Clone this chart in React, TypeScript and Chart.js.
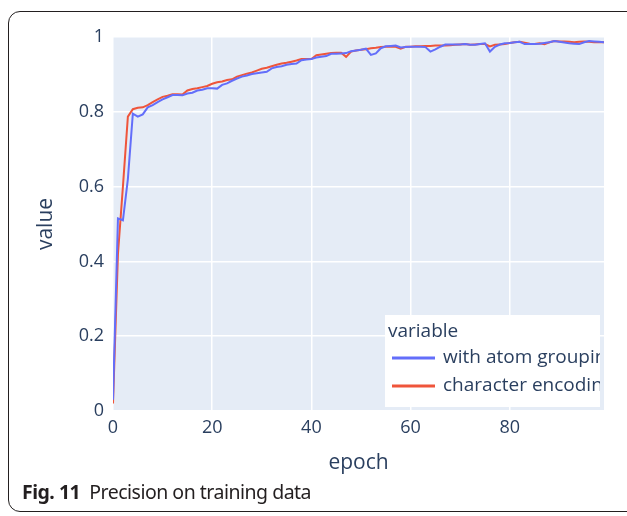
import React, { useEffect, useRef } from "react";
import { Chart, registerables } from "chart.js";

Chart.register(...registerables);

const epochs: number[] = Array.from({ length: 100 }, (_, i) => i);

const withAtomGrouping: number[] = [
  0.03, 0.515, 0.51, 0.62, 0.795, 0.787, 0.793, 0.812, 0.818, 0.826,
  0.833, 0.839, 0.845, 0.845, 0.844, 0.849, 0.851, 0.857, 0.859, 0.863,
  0.863, 0.862, 0.872, 0.876, 0.883, 0.889, 0.894, 0.897, 0.901, 0.903,
  0.905, 0.907, 0.916, 0.92, 0.922, 0.926, 0.928, 0.929, 0.938, 0.94,
  0.941, 0.945, 0.947, 0.949, 0.955, 0.955, 0.956, 0.957, 0.962, 0.964,
  0.966, 0.969, 0.952, 0.956, 0.97, 0.975, 0.976, 0.977, 0.972, 0.973,
  0.974, 0.974, 0.974, 0.973, 0.961, 0.967, 0.974, 0.98, 0.98, 0.98,
  0.98, 0.981, 0.979, 0.979, 0.981, 0.983, 0.961, 0.974, 0.98, 0.983,
  0.984, 0.986, 0.987, 0.981, 0.981, 0.981, 0.982, 0.984, 0.986, 0.989,
  0.987, 0.985, 0.983, 0.982, 0.981, 0.986, 0.989, 0.988, 0.987, 0.986,
];

const characterEncoding: number[] = [
  0.02, 0.42, 0.6, 0.787, 0.807, 0.811, 0.812, 0.818, 0.826, 0.833,
  0.84, 0.843, 0.847, 0.847, 0.846, 0.857, 0.861, 0.863, 0.866, 0.869,
  0.875, 0.879, 0.881, 0.885, 0.887, 0.894, 0.898, 0.902, 0.905, 0.91,
  0.915, 0.918, 0.922, 0.926, 0.929, 0.931, 0.934, 0.937, 0.941, 0.941,
  0.941, 0.951, 0.953, 0.955, 0.957, 0.958, 0.958, 0.947, 0.961, 0.964,
  0.966, 0.967, 0.97, 0.971, 0.973, 0.974, 0.974, 0.974, 0.969, 0.974,
  0.974, 0.975, 0.975, 0.976, 0.976, 0.977, 0.977, 0.977, 0.978, 0.979,
  0.98, 0.981, 0.979, 0.98, 0.981, 0.981, 0.975, 0.979, 0.98, 0.981,
  0.984, 0.986, 0.987, 0.985, 0.982, 0.981, 0.983, 0.981, 0.986, 0.989,
  0.988, 0.988, 0.987, 0.986, 0.987, 0.988, 0.987, 0.986, 0.986, 0.986,
];

const seriesNames: string[] = ["with atom grouping", "character encoding"];
const legendTitle = "variable";
const xTitle = "epoch";
const yTitle = "value";
const captionBold = "Fig. 11";
const captionText = "Precision on training data";

const BLUE = "#636EFA";
const RED = "#EF553B";
const INK = "#2a3f5f";
const FONT = "'Open Sans', 'Noto Sans', sans-serif";

const bgPlugin = {
  id: "plotBg",
  beforeDraw(chart: any) {
    const { ctx, chartArea } = chart;
    ctx.save();
    ctx.fillStyle = "#E5ECF6";
    ctx.fillRect(chartArea.left, chartArea.top, chartArea.right - chartArea.left, chartArea.bottom - chartArea.top);
    ctx.restore();
  },
};

const legendPlugin = {
  id: "plotlyLegend",
  afterDraw(chart: any) {
    const { ctx, chartArea } = chart;
    const x0 = 385, y0 = 315, x1 = 600, y1 = 407;
    ctx.save();
    ctx.beginPath();
    ctx.rect(chartArea.left, chartArea.top, x1 - chartArea.left, chartArea.bottom - chartArea.top);
    ctx.clip();
    ctx.fillStyle = "#ffffff";
    ctx.fillRect(x0, y0, x1 - x0, y1 - y0);
    ctx.font = `19px ${FONT}`;
    ctx.fillStyle = INK;
    ctx.textBaseline = "middle";
    ctx.textAlign = "left";
    ctx.fillText(legendTitle, 388, 332);
    const colors = [BLUE, RED];
    const ys = [358, 386];
    seriesNames.forEach((name, i) => {
      ctx.strokeStyle = colors[i];
      ctx.lineWidth = 3;
      ctx.beginPath();
      ctx.moveTo(392, ys[i]);
      ctx.lineTo(435, ys[i]);
      ctx.stroke();
      ctx.fillStyle = INK;
      ctx.fillText(name, 443, ys[i]);
    });
    ctx.restore();
  },
};

export default function App() {
  const ref = useRef<HTMLCanvasElement | null>(null);

  useEffect(() => {
    if (!ref.current) return;
    const chart = new Chart(ref.current, {
      type: "line",
      data: {
        datasets: [
          {
            label: seriesNames[0],
            data: epochs.map((e, i) => ({ x: e, y: withAtomGrouping[i] })),
            borderColor: BLUE,
            borderWidth: 2,
            pointRadius: 0,
            tension: 0,
          },
          {
            label: seriesNames[1],
            data: epochs.map((e, i) => ({ x: e, y: characterEncoding[i] })),
            borderColor: RED,
            borderWidth: 2,
            pointRadius: 0,
            tension: 0,
          },
        ],
      },
      options: {
        animation: false,
        responsive: false,
        maintainAspectRatio: false,
        layout: { padding: { left: 0, top: 37, right: 23, bottom: 0 } },
        plugins: { legend: { display: false }, tooltip: { enabled: false } },
        scales: {
          x: {
            type: "linear",
            min: 0,
            max: 99,
            afterFit: (s: any) => {
              s.height = 105;
            },
            border: { display: false },
            grid: { color: "#ffffff", lineWidth: 1.5, drawTicks: false },
            ticks: {
              stepSize: 20,
              includeBounds: false,
              padding: 6,
              color: INK,
              font: { family: FONT, size: 18 },
              maxRotation: 0,
            },
            title: {
              display: true,
              text: xTitle,
              color: INK,
              font: { family: FONT, size: 21 },
              padding: { top: 0, bottom: 40 },
            },
          },
          y: {
            type: "linear",
            min: 0,
            max: 1,
            afterFit: (s: any) => {
              s.width = 113;
            },
            border: { display: false },
            grid: { color: "#ffffff", lineWidth: 1.5, drawTicks: false },
            ticks: {
              stepSize: 0.2,
              padding: 9,
              color: INK,
              font: { family: FONT, size: 18 },
              callback: (v: any) => String(Math.round(Number(v) * 10) / 10),
            },
            title: {
              display: true,
              text: yTitle,
              color: INK,
              font: { family: FONT, size: 21 },
              padding: { top: 33, bottom: 0 },
            },
          },
        },
      },
      plugins: [bgPlugin, legendPlugin],
    });
    return () => chart.destroy();
  }, []);

  return (
    <div style={{ position: "fixed", left: 0, top: 0, width: 627, height: 516, background: "#fff", overflow: "hidden" }}>
      <div
        style={{
          position: "absolute",
          left: 8,
          top: 11,
          width: 660,
          height: 501,
          border: "1.5px solid #231f20",
          borderRadius: 12,
          boxSizing: "border-box",
        }}
      />
      <canvas ref={ref} width={627} height={516} style={{ position: "absolute", left: 0, top: 0, width: 627, height: 516 }} />
      <div
        style={{
          position: "absolute",
          left: 22,
          top: 480,
          fontFamily: "'Noto Sans', sans-serif",
          fontSize: 19.5,
          lineHeight: "24px",
          color: "#231f20",
          whiteSpace: "nowrap",
          letterSpacing: -0.5,
        }}
      >
        <b>{captionBold}</b>
        <span style={{ marginLeft: 9 }}>{captionText}</span>
      </div>
    </div>
  );
}
